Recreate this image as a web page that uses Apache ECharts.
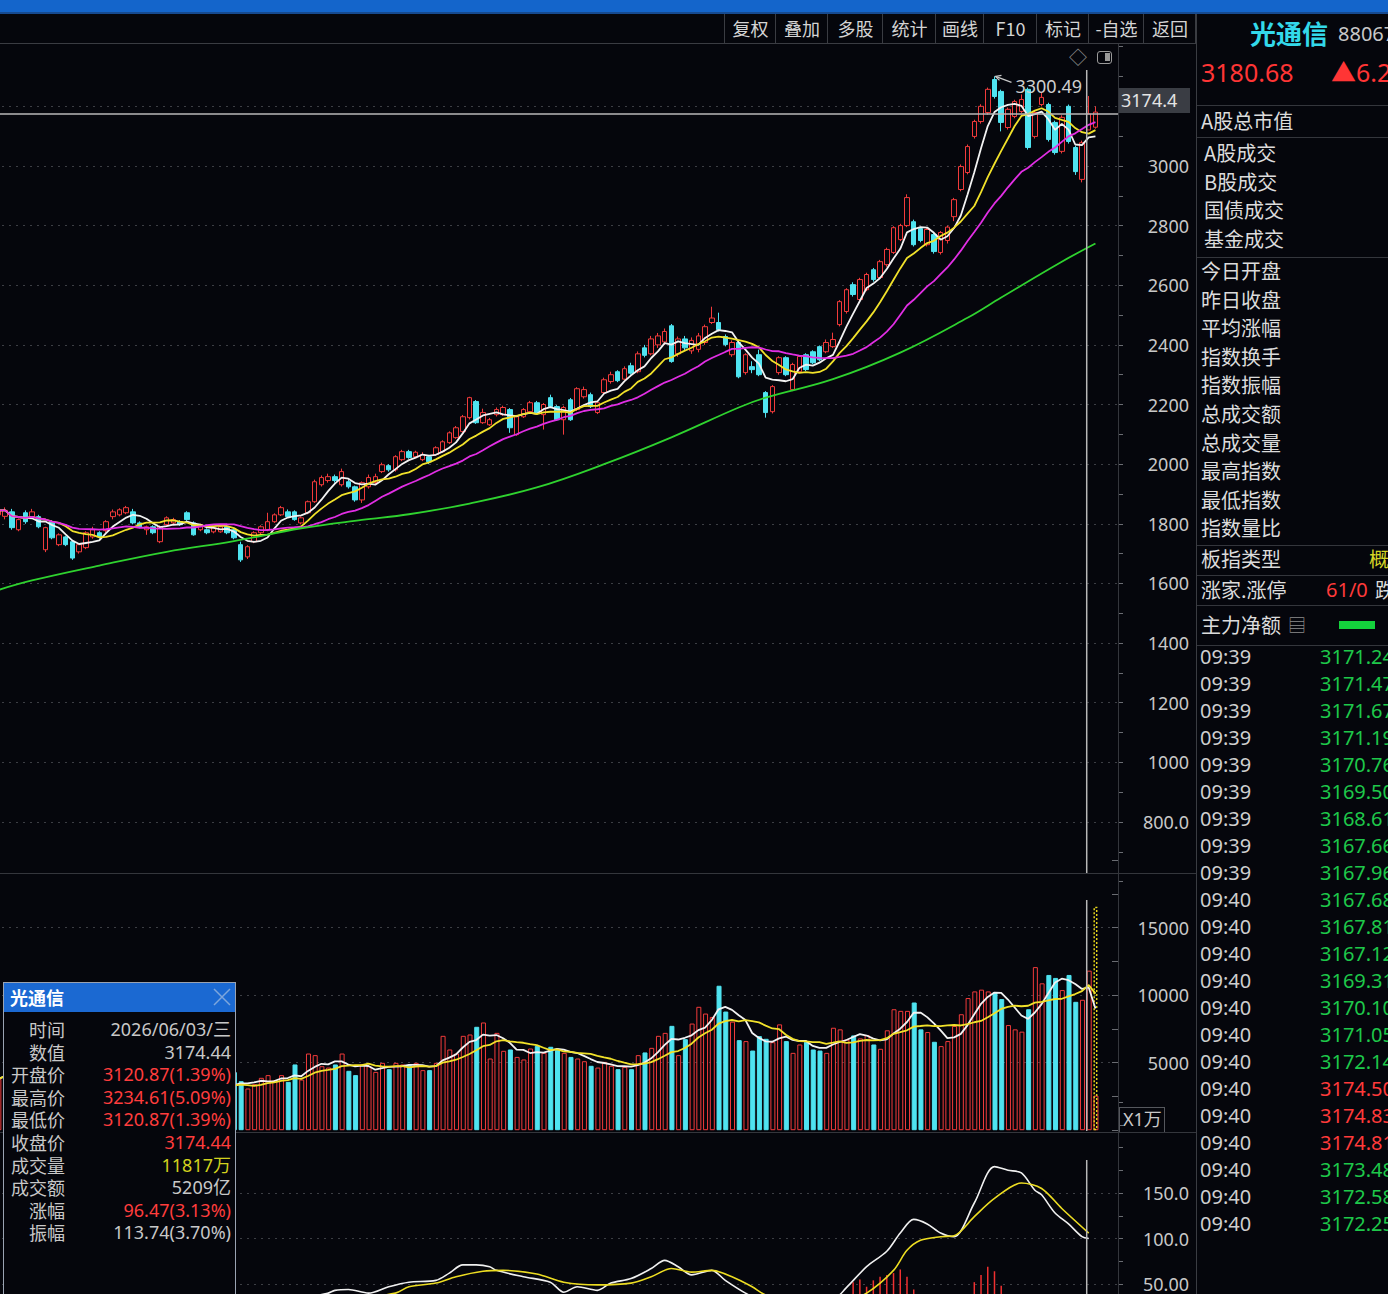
<!DOCTYPE html>
<html>
<head>
<meta charset="utf-8">
<script src="https://cdn.jsdelivr.net/npm/echarts@6/dist/echarts.min.js"></script>
<style>
  html, body { margin: 0; padding: 0; background: #05060c; overflow: hidden; }
  body { width: 1388px; height: 1294px; position: relative; font-family: "Noto Sans", "Noto Sans CJK SC", sans-serif; }
  #chart { position: absolute; left: 0; top: 0; width: 1388px; height: 1294px; }
  .t { position: absolute; white-space: nowrap; transform: translateY(-50%); line-height: 1.2; }
  .r { transform: translate(-100%, -50%); }
  .hl { position: absolute; height: 1px; background: #34363c; }
  .vl { position: absolute; width: 1px; background: #34363c; }
  #topbar { position: absolute; left: 0; top: 0; width: 1388px; height: 12px; background: #1465cb; border-bottom: 2px solid #164a90; }
  #tools .b { position: absolute; top: 14px; height: 29px; border-left: 1px solid #3a3c42; color: #d4d4d4; font-size: 18px; line-height: 29px; text-align: center; font-family: "Noto Sans CJK SC", sans-serif; }
  #panel { position: absolute; left: 1196px; top: 14px; width: 192px; height: 1280px; background: #05060c; border-left: 1px solid #3a3c42; overflow: hidden; }
  #pop { position: absolute; left: 3px; top: 982px; width: 231px; height: 330px; background: #05060c; border: 1px solid #9aa3b2; }
  #pop .title { position: absolute; left: 0; top: 0; width: 231px; height: 29px; background: #1b69d2; }
</style>
</head>
<body>
<div id="chart"></div>
<div id="topbar"></div>
<div class="hl" style="left:0;top:43px;width:1196px;background:#3a3c42"></div>
<div class="hl" style="left:0;top:873px;width:1196px"></div>
<div class="hl" style="left:0;top:1132px;width:1196px"></div>
<div class="vl" style="left:1118px;top:44px;height:1250px"></div>
<div id="tools"></div>
<div class="t" style="left:1069px;top:58px;font-size:18px;color:#8c8c8c">◇</div>
<div style="position:absolute;left:1097px;top:51px;width:15px;height:13px;border:1.5px solid #9a9a9a;border-radius:3px;box-sizing:border-box">
  <div style="position:absolute;right:1px;top:1px;width:5px;height:8px;background:#9a9a9a"></div>
</div>
<div style="position:absolute;left:1119px;top:1107px;width:46px;height:25px;border:1px solid #55575d;border-bottom:none;box-sizing:border-box"></div>
<div class="t" style="left:1123px;top:1120px;font-size:18px;color:#c8c8c8">X1万</div>
<div id="panel"></div>
<div id="pop"><div class="title"></div></div>

<script>
// ---- 数据 ----
const BG = '#05060c';
const RED = '#f23b3b';
const CYAN = '#4fe3f0';
const GRID = '#3c3e44';

// [开, 收, 低, 高]
const candles = [
  [1830, 1845, 1822, 1852], [1825, 1845, 1815, 1855], [1840, 1787, 1780, 1850], [1780, 1814, 1775, 1818],
  [1837, 1807, 1800, 1845], [1824, 1840, 1820, 1850], [1824, 1790, 1785, 1830], [1713, 1787, 1705, 1790],
  [1807, 1753, 1748, 1812], [1730, 1763, 1725, 1768], [1756, 1730, 1725, 1760], [1740, 1685, 1679, 1745],
  [1706, 1730, 1700, 1735], [1720, 1770, 1715, 1775], [1756, 1780, 1750, 1790], [1770, 1756, 1750, 1775],
  [1777, 1807, 1770, 1812], [1824, 1840, 1815, 1848], [1830, 1847, 1825, 1852], [1837, 1854, 1832, 1860],
  [1840, 1803, 1798, 1850], [1803, 1790, 1785, 1808], [1780, 1790, 1763, 1794], [1790, 1770, 1765, 1795],
  [1740, 1790, 1735, 1795], [1797, 1820, 1793, 1825], [1803, 1814, 1798, 1820], [1807, 1797, 1793, 1812],
  [1837, 1814, 1810, 1842], [1803, 1763, 1760, 1808], [1780, 1797, 1775, 1800], [1780, 1770, 1765, 1785],
  [1773, 1787, 1768, 1792], [1773, 1790, 1770, 1795], [1790, 1770, 1765, 1795], [1780, 1753, 1748, 1785],
  [1730, 1679, 1672, 1740], [1689, 1723, 1682, 1728], [1740, 1770, 1735, 1775], [1770, 1790, 1765, 1795],
  [1780, 1807, 1775, 1837], [1807, 1830, 1803, 1835], [1830, 1854, 1826, 1860], [1840, 1824, 1820, 1848],
  [1840, 1814, 1810, 1845], [1803, 1820, 1798, 1825], [1837, 1874, 1832, 1878], [1874, 1941, 1870, 1948],
  [1931, 1955, 1925, 1962], [1945, 1958, 1938, 1968], [1958, 1945, 1938, 1965], [1931, 1975, 1925, 1985],
  [1941, 1924, 1918, 1948], [1924, 1880, 1874, 1928], [1880, 1938, 1870, 1942], [1924, 1955, 1918, 1965],
  [1938, 1958, 1932, 1968], [1975, 1998, 1970, 2005], [1995, 1981, 1975, 2000], [1981, 2025, 1975, 2030],
  [2015, 2042, 2010, 2048], [2042, 2022, 2018, 2048], [2025, 2040, 2020, 2045], [2015, 2032, 2010, 2040],
  [2025, 2008, 2000, 2030], [2032, 2055, 2028, 2060], [2042, 2075, 2038, 2080], [2072, 2105, 2068, 2110],
  [2089, 2122, 2085, 2128], [2109, 2159, 2105, 2165], [2156, 2223, 2150, 2226], [2210, 2139, 2135, 2215],
  [2139, 2173, 2135, 2186], [2132, 2149, 2128, 2155], [2166, 2183, 2160, 2190], [2166, 2190, 2162, 2196],
  [2183, 2122, 2105, 2188], [2099, 2159, 2095, 2165], [2159, 2183, 2155, 2188], [2176, 2206, 2170, 2212],
  [2206, 2173, 2168, 2212], [2166, 2200, 2116, 2205], [2223, 2193, 2188, 2233], [2193, 2149, 2145, 2198],
  [2149, 2190, 2099, 2196], [2216, 2149, 2145, 2222], [2183, 2253, 2178, 2258], [2226, 2250, 2220, 2260],
  [2233, 2193, 2188, 2240], [2173, 2206, 2168, 2212], [2240, 2283, 2235, 2290], [2277, 2300, 2270, 2310],
  [2310, 2280, 2275, 2315], [2285, 2320, 2280, 2328], [2330, 2305, 2300, 2340], [2310, 2370, 2305, 2378],
  [2390, 2365, 2358, 2400], [2370, 2420, 2365, 2430], [2400, 2430, 2390, 2440], [2410, 2445, 2400, 2455],
  [2464, 2344, 2340, 2470], [2370, 2420, 2360, 2428], [2420, 2390, 2380, 2430], [2380, 2415, 2370, 2425],
  [2385, 2430, 2375, 2440], [2408, 2461, 2400, 2468], [2475, 2490, 2470, 2528], [2475, 2451, 2445, 2508],
  [2428, 2401, 2395, 2435], [2367, 2408, 2360, 2415], [2408, 2293, 2288, 2415], [2307, 2367, 2300, 2372],
  [2327, 2317, 2305, 2345], [2367, 2300, 2295, 2384], [2240, 2173, 2156, 2245], [2176, 2260, 2170, 2265],
  [2307, 2357, 2300, 2362], [2357, 2300, 2295, 2362], [2250, 2334, 2245, 2340], [2310, 2361, 2305, 2366],
  [2367, 2317, 2312, 2372], [2377, 2340, 2335, 2382], [2394, 2350, 2345, 2398], [2377, 2408, 2372, 2418],
  [2394, 2418, 2390, 2441], [2468, 2545, 2462, 2550], [2512, 2585, 2505, 2590], [2602, 2569, 2562, 2610],
  [2552, 2619, 2545, 2625], [2585, 2636, 2580, 2642], [2652, 2619, 2612, 2658], [2626, 2679, 2620, 2685],
  [2669, 2720, 2662, 2726], [2710, 2793, 2705, 2798], [2753, 2800, 2748, 2806], [2800, 2894, 2795, 2905],
  [2813, 2736, 2730, 2820], [2790, 2750, 2744, 2796], [2736, 2787, 2730, 2792], [2770, 2713, 2706, 2775],
  [2710, 2777, 2703, 2782], [2750, 2795, 2740, 2800], [2830, 2887, 2815, 2893], [2921, 2998, 2915, 3005],
  [2978, 3065, 2972, 3072], [3099, 3149, 3092, 3155], [3149, 3200, 3142, 3207], [3179, 3257, 3172, 3263],
  [3290, 3233, 3226, 3300.49], [3250, 3146, 3116, 3256], [3129, 3190, 3122, 3196], [3166, 3216, 3160, 3222],
  [3183, 3223, 3178, 3240], [3257, 3062, 3055, 3263], [3099, 3179, 3092, 3185], [3206, 3230, 3200, 3245],
  [3206, 3089, 3082, 3212], [3146, 3045, 3038, 3152], [3049, 3163, 3042, 3170], [3200, 3082, 3075, 3206],
  [3062, 2981, 2970, 3068], [2955, 3077.97, 2945, 3085], [3120.87, 3174.44, 3120.87, 3234.61], [3130, 3180.68, 3125, 3200]
];

// 成交量（万）
const volumes = [
  3800, 4200, 4600, 4000, 3600, 3900, 4800, 4500, 3900, 3500, 4700, 3600, 3900, 3700, 3200, 3600,
  4000, 3700, 3800, 4200, 3400, 3300, 3200, 3800, 3600, 3200, 3000, 3500, 3900, 3100, 2900, 3000,
  3100, 3000, 3300, 4300, 3630, 3090, 3410, 3880, 4080, 3700, 4080, 3580, 4870, 3750, 5680, 5560,
  4740, 4640, 4870, 5680, 4400, 4080, 4870, 4740, 4320, 4990, 4520, 4990, 4870, 4820, 4990, 4450,
  4450, 4990, 6990, 5980, 5680, 6990, 7090, 7660, 7980, 5310, 7210, 5880, 5980, 5430, 5240, 6050,
  6250, 5730, 6180, 5930, 5730, 5430, 5310, 5110, 4770, 4640, 5060, 4770, 4520, 4690, 4520, 5560,
  5760, 6100, 6990, 7210, 7730, 5560, 6740, 7900, 9140, 8640, 8390, 10700, 8790, 8040, 6670, 6600,
  5900, 6970, 6770, 6520, 7840, 6600, 5730, 6350, 6550, 5980, 5900, 5730, 7590, 7470, 6720, 7020,
  6800, 7050, 6350, 6030, 7400, 8960, 8840, 8840, 9460, 7470, 7270, 6550, 6230, 6600, 7720, 8590,
  9790, 10280, 10410, 10280, 10210, 9710, 7790, 7470, 7300, 8960, 12080, 10880, 11500, 11280, 10380, 11500,
  9510, 9660, 11817, 2560
];
const projectedVolume = [[163, 16560]];

// 长期均线（绿），按位置读取
const maLong = [
  [0, 1578], [5, 1610], [15, 1660], [25, 1706], [35, 1742], [45, 1785], [54, 1813], [61, 1832],
  [70, 1868], [80, 1922], [90, 2000], [100, 2090], [110, 2190], [114, 2223], [124, 2285], [134, 2374],
  [144, 2491], [149, 2559], [158, 2679], [163, 2740]
];

// 副图指标
const indWhite = [
  [36, 30], [44, 33], [49, 40], [50, 43], [52, 44], [55, 40], [58, 47], [61, 52], [65, 54], [67, 62],
  [69, 71], [71, 71], [73, 69], [74, 65], [78, 58], [82, 52], [84, 41], [86, 47], [89, 43], [91, 51],
  [94, 56], [97, 67], [99, 76], [101, 69], [103, 60], [106, 65], [108, 54], [111, 40], [114, 30], [120, 25],
  [124, 32], [126, 46], [129, 69], [132, 86], [134, 106], [136, 121], [138, 116], [140, 106], [142, 102], [145, 139],
  [148, 179], [150, 175], [152, 172], [154, 153], [155, 148], [157, 128], [159, 116], [161, 102], [162, 100]
];
const indYellow = [
  [50, 30], [59, 40], [61, 47], [65, 51], [68, 58], [72, 64], [75, 65], [80, 61], [84, 52], [89, 49],
  [94, 51], [97, 58], [100, 67], [103, 63], [106, 65], [109, 58], [112, 47], [114, 38], [120, 28], [126, 32],
  [129, 40], [133, 65], [135, 87], [137, 98], [140, 102], [142, 103], [145, 124], [148, 144], [152, 161], [155, 155],
  [158, 133], [162, 106]
];
const indBars = [
  [127, 52], [128, 55], [129, 47], [130, 54], [131, 58], [132, 60], [133, 62], [134, 66], [135, 58], [136, 44],
  [145, 52], [146, 60], [147, 69], [148, 64], [149, 48]
];

// 3200 的刻度文字被当前价标签盖住，只保留网格线
const priceTickValues = [800, 1000, 1200, 1400, 1600, 1800, 2000, 2200, 2400, 2600, 2800, 3000];
const priceTickText = ['800.0', '1000', '1200', '1400', '1600', '1800', '2000', '2200', '2400', '2600', '2800', '3000'];
const volTickValues = [5000, 10000, 15000];
const volTickText = ['5000', '10000', '15000'];
const indTickValues = [50, 100, 150];
const indTickText = ['50.00', '100.0', '150.0'];

const crossIndex = 162;
const crossValue = 3174.44;
const highIndex = 148;
const highValue = 3300.49;

const toolButtons = [['复权', 724, 51], ['叠加', 775, 52], ['多股', 827, 55], ['统计', 882, 53], ['画线', 935, 48],
  ['F10', 983, 53], ['标记', 1036, 52], ['-自选', 1088, 55], ['返回', 1143, 52]];

const panelGroup1 = ['A股成交', 'B股成交', '国债成交', '基金成交'];
const panelGroup2 = ['今日开盘', '昨日收盘', '平均涨幅', '指数换手', '指数振幅', '总成交额', '总成交量', '最高指数', '最低指数', '指数量比'];
const tickTimes = ['09:39', '09:39', '09:39', '09:39', '09:39', '09:39', '09:39', '09:39', '09:39',
  '09:40', '09:40', '09:40', '09:40', '09:40', '09:40', '09:40', '09:40', '09:40', '09:40', '09:40', '09:40', '09:40'];
const tickPrices = ['3171.24', '3171.47', '3171.67', '3171.19', '3170.76', '3169.50', '3168.61', '3167.66', '3167.96',
  '3167.68', '3167.81', '3167.12', '3169.31', '3170.10', '3171.05', '3172.14', '3174.50', '3174.83', '3174.81',
  '3173.48', '3172.58', '3172.25'];

const popLabels = ['时间', '数值', '开盘价', '最高价', '最低价', '收盘价', '成交量', '成交额', '涨幅', '振幅'];
const popValues = ['2026/06/03/三', '3174.44', '3120.87(1.39%)', '3234.61(5.09%)', '3120.87(1.39%)', '3174.44',
  '11817万', '5209亿', '96.47(3.13%)', '113.74(3.70%)'];
const popColors = ['#c8c8c8', '#c8c8c8', '#ff3d3d', '#ff3d3d', '#ff3d3d', '#ff3d3d', '#d2d21e', '#c8c8c8', '#ff3d3d', '#c8c8c8'];

// ---- 工具 ----
function movingAvg(vals, n) {
  return vals.map((_, i) => {
    const from = Math.max(0, i - n + 1);
    let s = 0;
    for (let k = from; k <= i; k++) s += vals[k];
    return +(s / (i - from + 1)).toFixed(2);
  });
}

function addText(parent, text, x, cy, size, color, right, extra) {
  const d = document.createElement('div');
  d.className = right ? 't r' : 't';
  d.textContent = text;
  d.style.left = x + 'px';
  d.style.top = cy + 'px';
  d.style.fontSize = size + 'px';
  d.style.color = color;
  if (extra) Object.assign(d.style, extra);
  parent.appendChild(d);
  return d;
}

function addLine(parent, x, y, w) {
  const d = document.createElement('div');
  d.className = 'hl';
  d.style.left = x + 'px'; d.style.top = y + 'px'; d.style.width = w + 'px';
  parent.appendChild(d);
}

// ---- 顶部工具栏 ----
const tools = document.getElementById('tools');
toolButtons.forEach(([name, x, w]) => {
  const b = document.createElement('div');
  b.className = 'b';
  b.style.left = x + 'px';
  b.style.width = w + 'px';
  b.textContent = name;
  tools.appendChild(b);
});
const endSep = document.createElement('div');
endSep.className = 'vl';
endSep.style.cssText = 'left:1195px;top:14px;height:29px;background:#3a3c42';
tools.appendChild(endSep);

// ---- 右侧面板（坐标相对面板） ----
const panel = document.getElementById('panel');
const PX = -1196, PY = -14;
const CJK = { fontFamily: '"Noto Sans CJK SC", sans-serif' };
addText(panel, '光通信', 1249 + PX, 33 + PY, 26, '#33d9ea', false, { fontFamily: '"Noto Sans CJK SC", sans-serif', fontWeight: 'bold' });
addText(panel, '88067', 1337 + PX, 34 + PY, 20, '#c8c8c8');
addText(panel, '3180.68', 1200 + PX, 72 + PY, 25, '#ff3535');
addText(panel, '▲6.24', 1330 + PX, 72 + PY, 25, '#ff3535');
[105, 137, 257, 545, 575, 605, 645].forEach(y => addLine(panel, 0, y + PY, 192));
addText(panel, 'A股总市值', 1200 + PX, 121 + PY, 20, '#dcdcdc', false, CJK);
panelGroup1.forEach((s, k) => addText(panel, s, 1203 + PX, 153 + k * 28.7 + PY, 20, '#dcdcdc', false, CJK));
panelGroup2.forEach((s, k) => addText(panel, s, 1200 + PX, 271 + k * 28.6 + PY, 20, '#dcdcdc', false, CJK));
addText(panel, '板指类型', 1200 + PX, 559 + PY, 20, '#dcdcdc', false, CJK);
addText(panel, '概念', 1368 + PX, 559 + PY, 20, '#d6d625', false, CJK);
addText(panel, '涨家.涨停', 1200 + PX, 590 + PY, 20, '#dcdcdc', false, CJK);
addText(panel, '61/0', 1325 + PX, 590 + PY, 20, '#ff3a3a');
addText(panel, '跌家', 1374 + PX, 590 + PY, 20, '#dcdcdc', false, CJK);
addText(panel, '主力净额', 1200 + PX, 625 + PY, 20, '#dcdcdc', false, CJK);
addText(panel, '▤', 1287 + PX, 626 + PY, 18, '#8a8a8a');
const bar = document.createElement('div');
bar.style.cssText = 'position:absolute;left:' + (1338 + PX) + 'px;top:' + (621 + PY) + 'px;width:36px;height:8px;background:#14d23c';
panel.appendChild(bar);
tickTimes.forEach((t, k) => {
  const cy = 657 + k * 27 + PY;
  addText(panel, t, 1199 + PX, cy, 20, '#cfcfcf');
  const up = parseFloat(tickPrices[k]) > crossValue;
  addText(panel, tickPrices[k], 1319 + PX, cy, 20, up ? '#ff3a3a' : '#1ec84a');
});

// ---- 信息弹窗（坐标相对弹窗） ----
const pop = document.getElementById('pop');
addText(pop.querySelector('.title'), '光通信', 6, 15, 18, '#ffffff', false, { fontWeight: 'bold', fontFamily: '"Noto Sans CJK SC", sans-serif' });
const xSvg = document.createElementNS('http://www.w3.org/2000/svg', 'svg');
xSvg.setAttribute('width', '18'); xSvg.setAttribute('height', '18');
xSvg.style.cssText = 'position:absolute;left:209px;top:5px';
xSvg.innerHTML = '<path d="M1 1 L17 17 M17 1 L1 17" stroke="#7ea6dc" stroke-width="1.5"/>';
pop.appendChild(xSvg);
popLabels.forEach((s, k) => {
  const cy = 1029 + k * 22.6 - 983;
  addText(pop, s, 61, cy, 18, '#c8c8c8', true, { fontFamily: '"Noto Sans CJK SC", sans-serif', lineHeight: '1' });
  addText(pop, popValues[k], 227, cy, 18, popColors[k], true, { lineHeight: '1' });
});

// ---- 图表 ----
const closes = candles.map(c => c[1]);
const slots = Array.from({ length: candles.length + 3 }, (_, i) => i);
const ma5 = movingAvg(closes, 5);
const ma10 = movingAvg(closes, 10);
const ma20 = movingAvg(closes, 20);
const volMa5 = movingAvg(volumes, 5);
const volMa10 = movingAvg(volumes, 10);

const volItems = volumes.map((v, i) => {
  const up = candles[i][1] >= candles[i][0];
  return {
    value: v,
    itemStyle: up ? { color: BG, borderColor: RED, borderWidth: 1 } : { color: CYAN, borderColor: CYAN, borderWidth: 1 }
  };
});

const NUM_FONT = '"Noto Sans", sans-serif';
function labelFrom(values, texts) {
  return v => { const k = values.indexOf(v); return k < 0 ? '' : texts[k]; };
}
function gridColors(n, hide) {
  return Array.from({ length: n }, (_, i) => (hide.indexOf(i) >= 0 ? 'rgba(0,0,0,0)' : GRID));
}
function yAxisDef(gridIndex, min, max, interval, formatter, colors, inside) {
  return {
    type: 'value', gridIndex, position: 'right', min, max, interval,
    axisLine: { show: false },
    axisTick: { show: true, inside: inside, length: inside ? 7 : 4, lineStyle: { color: '#6a6c72' } },
    minorTick: { show: true, splitNumber: 2, length: inside ? 7 : 4, lineStyle: { color: '#6a6c72' } },
    axisLabel: { color: '#c8c8c8', fontSize: 18, fontFamily: NUM_FONT, align: 'right', margin: 70, formatter },
    splitLine: { show: true, lineStyle: { color: colors, type: [2, 5], width: 1 } }
  };
}
function lineDef(name, data, color, xi, smooth, width) {
  return {
    name, type: 'line', data, xAxisIndex: xi, yAxisIndex: xi, showSymbol: false, symbol: 'none',
    smooth: smooth || false, lineStyle: { color, width: width || 1.8 }, z: 5, silent: true
  };
}

const chart = echarts.init(document.getElementById('chart'), null, { renderer: 'svg' });
const gridBase = { left: -5, width: 1124, outerBoundsMode: 'none', containLabel: false };

chart.setOption({
  backgroundColor: 'transparent',
  animation: false,
  grid: [
    Object.assign({ top: 46.7, height: 834.9 }, gridBase),
    Object.assign({ top: 860.2, height: 270 }, gridBase),
    Object.assign({ top: 1102, height: 227.5 }, gridBase)
  ],
  xAxis: [0, 1, 2].map(g => ({
    type: 'category', gridIndex: g, data: slots, boundaryGap: true,
    axisLine: { show: false }, axisTick: { show: false }, axisLabel: { show: false }, splitLine: { show: false }
  })),
  yAxis: [
    yAxisDef(0, 600, 3400, 200, labelFrom(priceTickValues, priceTickText), gridColors(15, [0, 14]), false),
    yAxisDef(1, 0, 20000, 5000, labelFrom(volTickValues, volTickText), gridColors(5, [0, 4]), true),
    yAxisDef(2, 0, 250, 50, labelFrom(indTickValues, indTickText), gridColors(6, [0, 4, 5]), false)
  ],
  series: [
    {
      type: 'candlestick', data: candles, xAxisIndex: 0, yAxisIndex: 0, barWidth: 5,
      itemStyle: { color: BG, color0: CYAN, borderColor: RED, borderColor0: CYAN, borderWidth: 1 }, z: 3
    },
    lineDef('MA5', ma5, '#f2f2f2', 0),
    lineDef('MA10', ma10, '#f1e12a', 0),
    lineDef('MA20', ma20, '#e12ee4', 0),
    lineDef('MA60', maLong, '#2fd22f', 0, 0.4),
    { type: 'bar', data: volItems, xAxisIndex: 1, yAxisIndex: 1, barWidth: 5, barGap: '-100%', z: 3 },
    {
      type: 'bar', data: projectedVolume, xAxisIndex: 1, yAxisIndex: 1, barWidth: 4, barGap: '-100%', z: 4,
      itemStyle: { color: 'rgba(0,0,0,0)', borderColor: '#e6d61c', borderType: [2, 2], borderWidth: 1.5 }
    },
    lineDef('VMA5', volMa5, '#f2f2f2', 1),
    lineDef('VMA10', volMa10, '#f1e12a', 1),
    { type: 'bar', data: indBars, xAxisIndex: 2, yAxisIndex: 2, barWidth: 1.5, itemStyle: { color: '#f03030' }, z: 2 },
    lineDef('W', indWhite, '#f0f0f0', 2, 0.3, 1.6),
    lineDef('Y', indYellow, '#ecdc22', 2, 0.3, 1.6)
  ]
});

// 十字光标与最高价标注（光标线在K线中心略偏左，与原图一致）
const [cxRaw, cy] = chart.convertToPixel({ gridIndex: 0 }, [crossIndex, crossValue]);
const cx = cxRaw - 2;
const [hx, hy] = chart.convertToPixel({ gridIndex: 0 }, [highIndex, highValue]);
const cross = { stroke: '#b8b8b8', lineWidth: 1.5 };
chart.setOption({
  graphic: [
    { type: 'line', shape: { x1: cx, y1: 70, x2: cx, y2: 873 }, style: cross, z: 50 },
    { type: 'line', shape: { x1: cx, y1: 900, x2: cx, y2: 1131 }, style: cross, z: 50 },
    { type: 'line', shape: { x1: cx, y1: 1160, x2: cx, y2: 1294 }, style: cross, z: 50 },
    { type: 'line', shape: { x1: 0, y1: cy, x2: 1118, y2: cy }, style: cross, z: 50 },
    { type: 'rect', shape: { x: 1119, y: cy - 26, width: 71, height: 25 }, style: { fill: '#3a3d44' }, z: 60 },
    { type: 'text', x: 1121, y: cy - 13.5, style: { text: crossValue.toFixed(1), fill: '#e4e4e4', font: '18px "Noto Sans"', verticalAlign: 'middle' }, z: 61 },
    { type: 'line', shape: { x1: hx + 1, y1: hy, x2: hx + 17, y2: hy + 6 }, style: { stroke: '#c8c8c8', lineWidth: 1.2 }, z: 50 },
    { type: 'polyline', shape: { points: [[hx + 7, hy - 1], [hx + 1, hy], [hx + 5, hy + 4]] }, style: { stroke: '#c8c8c8', lineWidth: 1.2, fill: null }, z: 50 },
    { type: 'text', x: hx + 21, y: hy + 10, style: { text: highValue.toFixed(2), fill: '#cfcfcf', font: '18px "Noto Sans"', verticalAlign: 'middle' }, z: 50 }
  ]
});
</script>
</body>
</html>
